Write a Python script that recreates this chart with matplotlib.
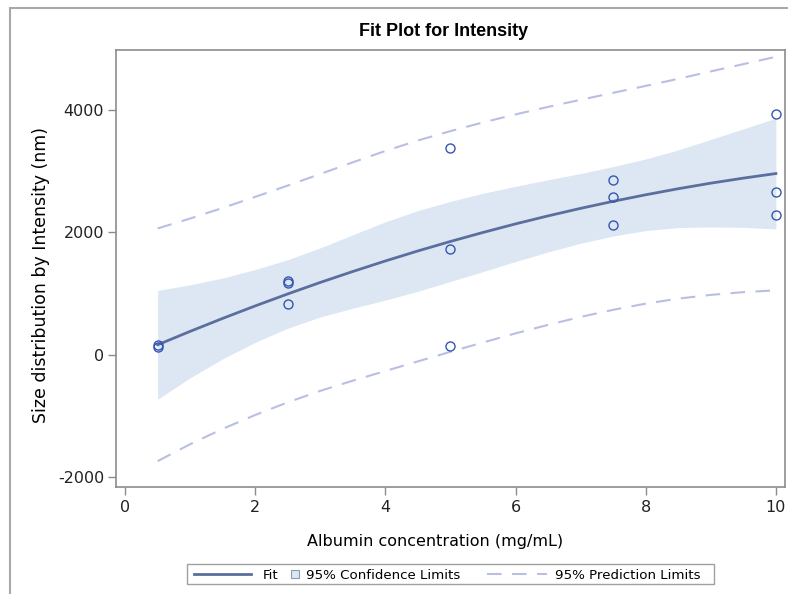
import matplotlib.pyplot as plt
from matplotlib.patches import Rectangle
from matplotlib.lines import Line2D

plt.rcParams["axes.unicode_minus"] = False

# observed points
conc = [0.5, 0.5, 2.5, 2.5, 2.5, 5, 5, 5, 7.5, 7.5, 7.5, 10, 10, 10]
size = [130, 150, 1198, 1166, 827, 3375, 1732, 139, 2857, 2583, 2120, 3932, 2660, 2279]

# fit curve and limits
grid_x = [0.5, 1, 1.5, 2, 2.5, 3, 3.5, 4, 4.5, 5, 5.5, 6, 6.5, 7, 7.5, 8, 8.5, 9, 9.5, 10]
fit = [160, 380, 592, 796, 992, 1180, 1359, 1531, 1695, 1850,
       1997, 2137, 2268, 2391, 2506, 2613, 2712, 2803, 2885, 2960]
cl_upper = [1049, 1140, 1252, 1391, 1552, 1745, 1959, 2171, 2355, 2505,
            2637, 2752, 2858, 2961, 3074, 3198, 3347, 3518, 3690, 3865]
cl_lower = [-729, -380, -68, 201, 432, 615, 759, 891, 1035, 1195,
            1357, 1522, 1678, 1821, 1938, 2028, 2077, 2088, 2080, 2055]
pl_upper = [2062, 2225, 2398, 2579, 2764, 2953, 3144, 3330, 3501, 3654,
            3796, 3927, 4050, 4166, 4280, 4393, 4509, 4630, 4749, 4869]
pl_lower = [-1742, -1465, -1214, -987, -780, -593, -426, -268, -111, 46,
            198, 347, 486, 616, 732, 833, 915, 976, 1021, 1051]

legend_labels = ["Fit", "95% Confidence Limits", "95% Prediction Limits"]

fit_col = "#5b6f9e"
band_col = "#dce7f3"
pred_col = "#b9bfe4"
pt_col = "#3456b0"
frame_col = "#8c8c8c"

W, H = 788, 594


def fx(px):
    return px / W


def fy(py):
    return 1 - py / H


fig = plt.figure(figsize=(W / 100, H / 100), dpi=100)
ax = fig.add_axes([116 / W, 1 - 487 / H, 669 / W, 437 / H])

ax.fill_between(grid_x, cl_lower, cl_upper, color=band_col, linewidth=0, zorder=1)
ax.plot(grid_x, pl_upper, color=pred_col, linewidth=1.5, dashes=(7, 5), zorder=2)
ax.plot(grid_x, pl_lower, color=pred_col, linewidth=1.5, dashes=(7, 5), zorder=2)
ax.plot(grid_x, fit, color=fit_col, linewidth=2, zorder=3)
ax.plot(conc, size, linestyle="none", marker="o", markersize=6.5,
        markerfacecolor="none", markeredgecolor=pt_col, markeredgewidth=1, zorder=4)

ax.set_xlim(-0.14, 10.14)
ax.set_ylim(-2165, 4980)
ax.set_xticks([0, 2, 4, 6, 8, 10])
ax.set_yticks([-2000, 0, 2000, 4000])
for s in ax.spines.values():
    s.set_color(frame_col)
    s.set_linewidth(1.2)
ax.tick_params(direction="out", length=6, width=1, color=frame_col,
               labelsize=11.5, labelcolor="#222222")
ax.tick_params(axis="y", pad=2.5)

ax.set_xlabel("Albumin concentration (mg/mL)", fontsize=11.5)
ax.xaxis.set_label_coords((435 - 116) / 669, (487 - 534) / 437)
ax.xaxis.label.set_va("top")
ax.set_ylabel("Size distribution by Intensity (nm)", fontsize=12.5)
ax.yaxis.set_label_coords((50 - 116) / 669, (487 - 275) / 437)

fig.text(fx(444), fy(32), "Fit Plot for Intensity", fontsize=13, fontweight="bold",
         family="Liberation Sans", ha="center", va="center")

# legend drawn by hand so the pieces sit where they do in the original
leg_y = 574
fig.patches.append(Rectangle((fx(187), fy(584)), fx(714) - fx(187), fy(564) - fy(584),
                             transform=fig.transFigure, facecolor="white",
                             edgecolor="#a0a0a0", linewidth=1))
fig.lines.append(Line2D([fx(194), fx(251)], [fy(leg_y)] * 2, transform=fig.transFigure,
                        color=fit_col, linewidth=2))
fig.text(fx(263), fy(leg_y), legend_labels[0], fontsize=9.6, va="center_baseline")
fig.patches.append(Rectangle((fx(291), fy(578)), fx(299) - fx(291), fy(570) - fy(578),
                             transform=fig.transFigure, facecolor=band_col,
                             edgecolor="#8f9bb3", linewidth=0.8))
fig.text(fx(306), fy(leg_y), legend_labels[1], fontsize=9.6, va="center_baseline")
fig.lines.append(Line2D([fx(487), fx(547)], [fy(leg_y)] * 2, transform=fig.transFigure,
                        color=pred_col, linewidth=1.5, dashes=(7, 5)))
fig.text(fx(555), fy(leg_y), legend_labels[2], fontsize=9.6, va="center_baseline")

# outer border of the graph area
fig.patches.append(Rectangle((fx(10), -0.2), 1.2, fy(8) + 0.2,
                             transform=fig.transFigure, fill=False,
                             edgecolor="#a8a8a8", linewidth=1.5))

plt.savefig("out.png")
